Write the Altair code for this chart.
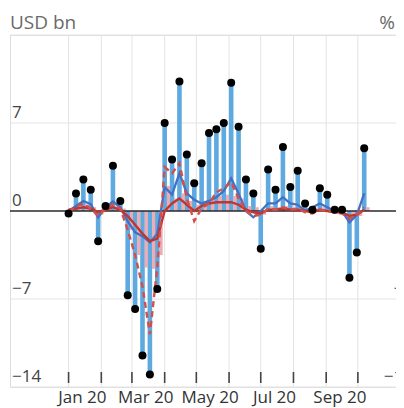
import altair as alt
import pandas as pd

# ---- data ----
weeks = [
    "2020-01-01", "2020-01-08", "2020-01-15", "2020-01-22", "2020-01-29",
    "2020-02-05", "2020-02-12", "2020-02-19", "2020-02-26",
    "2020-03-04", "2020-03-11", "2020-03-18", "2020-03-25",
    "2020-04-01", "2020-04-08", "2020-04-15", "2020-04-22", "2020-04-29",
    "2020-05-06", "2020-05-13", "2020-05-20", "2020-05-27",
    "2020-06-03", "2020-06-10", "2020-06-17", "2020-06-24",
    "2020-07-01", "2020-07-08", "2020-07-15", "2020-07-22", "2020-07-29",
    "2020-08-05", "2020-08-12", "2020-08-19", "2020-08-26",
    "2020-09-02", "2020-09-09", "2020-09-16", "2020-09-23", "2020-09-30",
    "2020-10-07",
]
flows_usd = [
    -0.2, 1.4, 2.5, 1.7, -2.4, 0.4, 3.6, 0.8, -6.7,
    -7.8, -11.5, -13.0, -6.2,
    7.0, 4.1, 10.3, 4.5, 2.2,
    3.8, 6.2, 6.5, 7.0,
    10.2, 6.7, 2.5, 1.4,
    -3.0, 3.3, 1.7, 5.1, 1.9,
    3.2, 0.6, 0.1, 1.8,
    1.3, 0.1, 0.1, -5.3, -3.3,
    5.0,
]
flows_pink = [
    0.2, 0.3, 0.5, 0.3, -0.3, 0.2, 0.4, 0.2, -1.5,
    -3.5, -4.5, -4.6, -3.5,
    2.0, 1.0, 1.4, 0.8, 0.5,
    0.8, 1.0, 1.2, 1.3,
    1.2, 1.0, 0.4, 0.3,
    -0.3, 0.4, 0.3, 0.4, 0.3,
    0.3, 0.2, 0.1, 0.3,
    0.2, 0.1, 0.1, -0.6, -0.4,
    0.3,
]
blue_line = [
    0.0, 0.4, 0.8, 0.55, -0.5, 0.3, 0.75, 0.3, -0.8,
    -1.7, -2.0, -2.5, -1.8,
    1.9, 1.3, 3.0, 1.4, 0.9,
    0.6, 0.8, 1.1, 1.6,
    2.6, 1.4, 0.0, -0.5,
    0.0, 0.6, 0.6, 1.1, 0.6,
    0.5, 0.0, 0.3, 0.6,
    0.3, 0.0, 0.0, -0.9, -0.3,
    1.4,
]
red_line = [
    0.1, 0.2, 0.3, 0.2, -0.1, 0.1, 0.3, 0.1, -0.4,
    -1.1, -1.8, -2.4, -2.2,
    0.0, 0.6, 1.0, 0.5, 0.0,
    0.4, 0.6, 0.7, 0.7,
    0.7, 0.5, 0.1, -0.1,
    -0.2, 0.1, 0.1, 0.2, 0.1,
    0.1, 0.0, -0.1, 0.1,
    0.0, -0.1, -0.1, -0.4, -0.3,
    0.1,
]
red_dash = [
    0.0, 0.3, 0.6, 0.2, -0.4, 0.2, 0.5, 0.2, -1.5,
    -3.5, -6.0, -9.8, -4.5,
    3.5, 3.0, 3.8, 1.0, -0.8,
    0.2, 0.6, 1.5, 1.8,
    2.3, 1.0, 0.0, -0.4,
    -0.3, 0.2, 0.1, 0.3, 0.1,
    0.2, -0.1, -0.2, 0.1,
    0.0, -0.1, -0.2, -0.6, -0.3,
    0.3,
]

month_starts = ["2020-01-01", "2020-02-01", "2020-03-01", "2020-04-01", "2020-05-01",
                "2020-06-01", "2020-07-01", "2020-08-01", "2020-09-01", "2020-10-01"]
month_labels = ["Jan 20", "Mar 20", "May 20", "Jul 20", "Sep 20"]
month_label_dates = ["2020-01-14", "2020-03-14", "2020-05-14", "2020-07-14", "2020-09-14"]
grid_vals = [14, 7, -7, -14]
left_vals = [7, 0, -7, -14]
left_txt = ["7", "0", "\u22127", "\u221214"]
right_txt = ["5", "0", "\u22125", "\u221210"]

FONT = "Open Sans"

df = pd.DataFrame({
    "week": weeks, "usd": flows_usd, "pink": flows_pink,
    "blue": blue_line, "red": red_line, "reddash": red_dash,
})
months_df = pd.DataFrame({"m": month_starts})
mlab_df = pd.DataFrame({"d": month_label_dates, "t": month_labels})
grid_df = pd.DataFrame({"v": grid_vals})
zero_df = pd.DataFrame({"v": [0]})
ylab_df = pd.DataFrame({"v": left_vals, "t": left_txt, "r": right_txt})

xscale = alt.Scale(
    type="utc",
    domain=[alt.DateTime(year=2019, month=11, date=11, hours=6, utc=True),
            alt.DateTime(year=2020, month=11, date=1, hours=9, utc=True)],
)
yscale = alt.Scale(domain=[-14, 14], nice=False, zero=False)

vgrid = alt.Chart(months_df).mark_rule(color="#E3E3E3", strokeWidth=1).encode(
    x=alt.X("m:T", scale=xscale, axis=None)
)
ticks = alt.Chart(months_df).mark_rule(color="#444444", strokeWidth=1.6).encode(
    x=alt.X("m:T", scale=xscale, axis=None), y=alt.value(337), y2=alt.value(348)
)
hgrid = alt.Chart(grid_df).mark_rule(color="#E3E3E3", strokeWidth=1).encode(
    y=alt.Y("v:Q", scale=yscale, axis=None)
)
xenc = alt.X("week:T", scale=xscale, axis=None)

bars = alt.Chart(df).mark_bar(width=4.6, color="#5DA9E0").encode(
    x=xenc, y=alt.Y("usd:Q", scale=yscale, axis=None), y2=alt.datum(0)
)
pink = alt.Chart(df).mark_bar(width=3.2, xOffset=3.8, color="#EBA2AC", opacity=0.9).encode(
    x=xenc, y=alt.Y("pink:Q", scale=yscale, axis=None), y2=alt.datum(0)
)
zero = alt.Chart(zero_df).mark_rule(color="#2A2A2A", strokeWidth=1.4).encode(
    y=alt.Y("v:Q", scale=yscale, axis=None)
)

lblue = alt.Chart(df).mark_line(color="#4470C4", strokeWidth=2.3).encode(
    x=xenc, y=alt.Y("blue:Q", scale=yscale, axis=None)
)
lred = alt.Chart(df).mark_line(color="#C0352E", strokeWidth=2.4).encode(
    x=xenc, y=alt.Y("red:Q", scale=yscale, axis=None)
)
ldash = alt.Chart(df).mark_line(color="#D2504C", strokeWidth=2.4, strokeDash=[6, 4]).encode(
    x=xenc, y=alt.Y("reddash:Q", scale=yscale, axis=None)
)
dots = alt.Chart(df).mark_circle(size=64, color="#000000", opacity=1).encode(
    x=xenc, y=alt.Y("usd:Q", scale=yscale, axis=None)
)

ylabels = alt.Chart(ylab_df).mark_text(
    align="left", baseline="alphabetic", dy=-5, fontSize=17, font=FONT, color="#444444"
).encode(x=alt.value(2), y=alt.Y("v:Q", scale=yscale, axis=None), text="t:N")
rlabels = alt.Chart(ylab_df).mark_text(
    align="right", baseline="alphabetic", dy=-5, fontSize=17, font=FONT, color="#444444"
).encode(x=alt.value(403), y=alt.Y("v:Q", scale=yscale, axis=None), text="r:N")

xlabels = alt.Chart(mlab_df).mark_text(
    align="center", baseline="alphabetic", fontSize=17, font=FONT, color="#333333"
).encode(x=alt.X("d:T", scale=xscale, axis=None), y=alt.value(368), text="t:N")

units = pd.DataFrame({"t": ["USD bn"], "p": ["%"]})
usd_title = alt.Chart(units).mark_text(
    align="left", baseline="alphabetic", fontSize=19, font=FONT, color="#6A6A6A"
).encode(x=alt.value(0), y=alt.value(-6), text="t:N")
pct_title = alt.Chart(units).mark_text(
    align="right", baseline="alphabetic", fontSize=19, font=FONT, color="#6A6A6A"
).encode(x=alt.value(385), y=alt.value(-6), text="p:N")

chart = alt.layer(
    vgrid, hgrid, ticks, bars, pink, zero, lblue, lred, ldash, dots,
    ylabels, rlabels, xlabels, usd_title, pct_title,
).properties(
    width=386, height=352,
    padding={"left": 2, "top": 27, "right": 0, "bottom": 21},
    autosize=alt.AutoSizeParams(type="none"),
).configure_view(stroke=None).configure(background="white")

chart.save("out.html", embed_options={"renderer": "svg", "actions": False})
